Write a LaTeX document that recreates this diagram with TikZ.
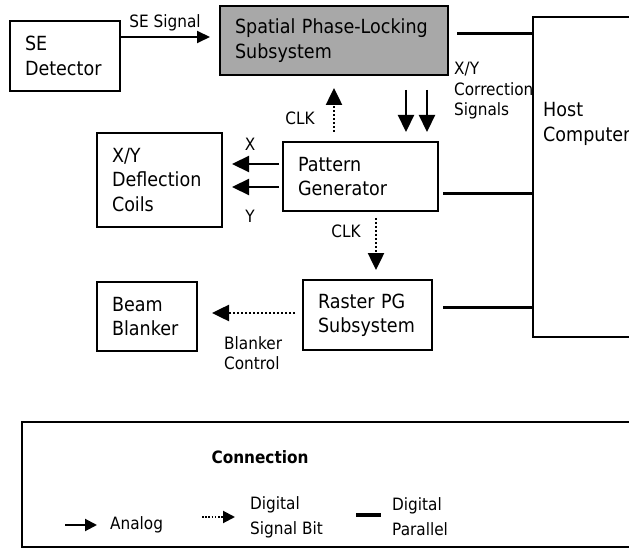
\documentclass[tikz,border=0pt]{standalone}
\usepackage{fontspec}
\setmainfont{DejaVu Sans}[FakeStretch=0.9]
\usetikzlibrary{arrows.meta}
\definecolor{plgray}{RGB}{168,168,168}
\tikzset{
  box/.style={draw, line width=2pt, rectangle, anchor=north west, outer sep=0pt,
    inner ysep=0pt, inner xsep=15pt, align=left,
    font=\fontsize{19.5}{24.4}\selectfont},
  lbl/.style={inner sep=0pt, align=left, font=\fontsize{17}{20.5}\selectfont},
  leg/.style={inner sep=0pt, align=left, font=\fontsize{17}{25}\selectfont},
  analog/.style={line width=2.2pt, -{Triangle[length=17pt,width=16pt]}},
  dig/.style={line width=2.5pt, dash pattern=on 2pt off 2pt,
    -{Triangle[length=17pt,width=16pt]}},
  par/.style={line width=3pt},
}
\begin{document}
\begin{tikzpicture}[x=1pt, y=-1pt]
\clip (0,0) rectangle (629,548);

% blocks
\node[box, text width=80pt, minimum height=70pt] (se) at (10,21) {SE\\Detector};
\node[box, fill=plgray, text width=198pt, minimum height=69pt] (spl) at (220,6)
  {Spatial Phase-Locking\\Subsystem};
\node[box, minimum width=110pt, minimum height=320pt] (host) at (533,17) {};
\node[anchor=west, inner sep=0pt, align=left, font=\fontsize{19.5}{24.4}\selectfont]
  (hosttxt) at (543,124) {Host\\Computer};
\node[box, text width=125pt, minimum height=69pt] (pg) at (283,142) {Pattern\\Generator};
\node[box, text width=95pt, minimum height=94pt] (defl) at (97,133) {X/Y\\Deflection\\Coils};
\node[box, text width=99pt, minimum height=70pt] (raster) at (303,280) {Raster PG\\Subsystem};
\node[box, text width=70pt, minimum height=69pt] (beam) at (97,282) {Beam\\Blanker};

% SE signal
\coordinate (se-o) at ([yshift=19pt]se.east);
\draw[line width=2pt, -{Triangle[length=13pt,width=12pt]}, shorten >=10pt]
  (se-o) -- (se-o -| spl.west);
\node[lbl] (sesig) at (165,23) {SE Signal};

% parallel buses to the host
\coordinate (spl-o) at ([yshift=6.5pt]spl.east);
\draw[par, shorten <=9pt] (spl-o) -- (spl-o -| host.west);
\coordinate (pg-o) at ([yshift=-17.5pt]pg.east);
\draw[par, shorten <=5pt] (pg-o) -- (pg-o -| host.west);
\coordinate (ras-o) at ([yshift=8pt]raster.east);
\draw[par, shorten <=11pt] (ras-o) -- (ras-o -| host.west);

% X/Y correction signals
\coordinate (d1) at ([xshift=-42pt]spl.south east);
\coordinate (d2) at ([xshift=-21pt]spl.south east);
\draw[analog, shorten <=15pt, shorten >=10pt] (d1) -- (d1 |- pg.north);
\draw[analog, shorten <=15pt, shorten >=10pt] (d2) -- (d2 |- pg.north);
\node[lbl, anchor=west] (corr) at (454,91) {X/Y\\Correction\\Signals};

% clock to the phase-locking subsystem
\draw[dig, shorten <=10pt, shorten >=13pt] (spl.south |- pg.north) -- (spl.south);
\node[lbl] (clk1) at (300,118) {CLK};

% deflection outputs
\coordinate (xo) at ([yshift=12.5pt]pg.west);
\coordinate (yo) at ([yshift=-10.5pt]pg.west);
\draw[analog, shorten <=4pt, shorten >=10pt] (xo) -- (xo -| defl.east);
\draw[analog, shorten <=4pt, shorten >=10pt] (yo) -- (yo -| defl.east);
\node[lbl] (xl) at (250,144) {X};
\node[lbl] (yl) at (250,216) {Y};

% clock to the raster subsystem
\coordinate (k) at ([xshift=15.5pt]pg.south);
\draw[dig, shorten <=7pt, shorten >=10pt] (k) -- (k |- raster.north);
\node[lbl] (clk2) at (346,231) {CLK};

% blanker control
\coordinate (bo) at ([yshift=2pt]raster.west);
\draw[dig, shorten <=8pt, shorten >=15pt] (bo) -- (bo -| beam.east);
\node[lbl, anchor=west] (blk) at (224,353) {Blanker\\Control};

% legend
\node[box, minimum width=620pt, minimum height=125pt] (legend) at (22,422) {};
\node[inner sep=0pt, font=\bfseries\fontsize{17}{21}\selectfont] (conn) at (260,457) {Connection};
\node[leg, anchor=west] (lan) at (110,525) {Analog};
\draw[line width=2pt, -{Triangle[length=12pt,width=12pt]}]
  ([xshift=-45pt]lan.west) -- ([xshift=-13pt]lan.west);
\node[leg, anchor=west] (ldig) at (250,517) {Digital\\Signal Bit};
\draw[line width=2pt, dash pattern=on 1.6pt off 1.6pt, -{Triangle[length=12pt,width=12pt]}]
  ([xshift=-48pt]ldig.west) -- ([xshift=-15pt]ldig.west);
\node[leg, anchor=west] (lpar) at (392,517) {Digital\\Parallel};
\draw[line width=4pt]
  ([xshift=-36pt,yshift=2pt]lpar.west) -- ([xshift=-11pt,yshift=2pt]lpar.west);
\end{tikzpicture}
\end{document}
